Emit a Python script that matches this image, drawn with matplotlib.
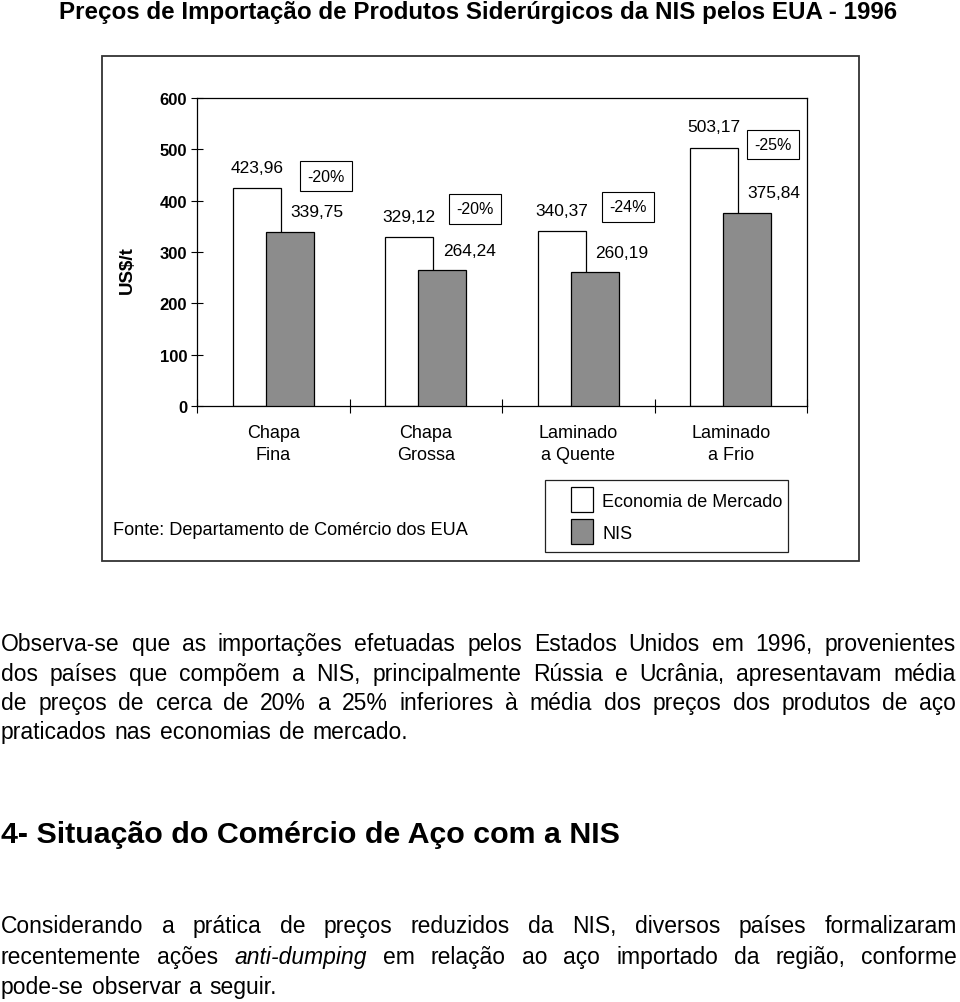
import numpy as np
import matplotlib
matplotlib.use("Agg")
import matplotlib.pyplot as plt
from matplotlib.patches import Rectangle

# ---------------- data ----------------
categories = ["Chapa\nFina", "Chapa\nGrossa", "Laminado\na Quente", "Laminado\na Frio"]
market = [423.96, 329.12, 340.37, 503.17]      # Economia de Mercado
nis = [339.75, 264.24, 260.19, 375.84]         # NIS
pct_labels = ["-20%", "-20%", "-24%", "-25%"]
yticks = [0, 100, 200, 300, 400, 500, 600]
series_names = ["Economia de Mercado", "NIS"]

title = "Preços de Importação de Produtos Siderúrgicos da NIS pelos EUA - 1996"
source = "Fonte: Departamento de Comércio dos EUA"
ylabel = "US$/t"
para1 = [
    "Observa-se que as importações efetuadas pelos Estados Unidos em 1996, provenientes",
    "dos países que compõem a NIS, principalmente Rússia e Ucrânia, apresentavam média",
    "de preços de cerca de 20% a 25% inferiores à média dos preços dos produtos de aço",
    "praticados nas economias de mercado.",
]
heading = "4- Situação do Comércio de Aço com a NIS"
para2 = [
    "Considerando a prática de preços reduzidos da NIS, diversos países formalizaram",
    "recentemente ações *anti-dumping* em relação ao aço importado da região, conforme",
    "pode-se observar a seguir.",
]

# ---------------- layout (pixels) ----------------
W, H = 960, 1003
plt.rcParams["font.family"] = ["Liberation Sans", "DejaVu Sans"]
fig = plt.figure(figsize=(W / 100, H / 100), dpi=100)
renderer = fig.canvas.get_renderer()


def fx(x):
    return x / W


def fy(y):
    return 1 - y / H


def width_of(t):
    return t.get_window_extent(renderer).width


def fit(t, target):
    t.set_fontsize(t.get_fontsize() * target / width_of(t))
    return t


GRAY = "#8c8c8c"

# outer chart frame
fig.add_artist(Rectangle((fx(102), fy(562)), fx(859) - fx(102), fy(57) - fy(562),
                         transform=fig.transFigure, fill=False, edgecolor="#333333", lw=1.3))

ax = fig.add_axes([fx(197), fy(407), fx(807) - fx(197), fy(99) - fy(407)])
idx = np.arange(len(categories))
off, bw = 0.108, 0.315
ax.bar(idx - off, market, bw, color="white", edgecolor="black", lw=0.9, zorder=2)
ax.bar(idx + off, nis, bw, color=GRAY, edgecolor="black", lw=0.9, zorder=3)
ax.set_xlim(-0.5, len(categories) - 0.5)
ax.set_ylim(0, 600)
for s in ax.spines.values():
    s.set_linewidth(0.9)

ax.set_yticks(yticks)
ax.set_yticklabels([str(t) for t in yticks], fontweight="bold", fontsize=12)
ax.tick_params(axis="y", direction="inout", length=8, width=0.8, pad=3)
ax.set_xticks(idx)
ax.set_xticklabels(categories, fontsize=13, linespacing=1.4)
ax.tick_params(axis="x", which="major", length=0, pad=13)
ax.set_xticks(np.arange(-0.5, len(categories), 1.0), minor=True)
ax.tick_params(axis="x", which="minor", direction="inout", length=9.5, width=0.8)
ax.set_ylabel(ylabel, fontweight="bold", fontsize=13.5)
ax.yaxis.set_label_coords(-0.101, 0.445)

fmt = lambda v: f"{v:.2f}".replace(".", ",")
for i in idx:
    ax.annotate(fmt(market[i]), (i - off, market[i]), xytext=(0, 15), textcoords="offset points",
                ha="center", va="center", fontsize=12.5, zorder=5)
    ax.annotate(fmt(nis[i]), (i + off, nis[i]), xytext=(19.5, 14.5), textcoords="offset points",
                ha="center", va="center", fontsize=12.5, zorder=5)

pct_pos = [(0.346, 448), (1.323, 384), (2.326, 388), (3.277, 510)]
for (px, py), lab in zip(pct_pos, pct_labels):
    ax.text(px, py, lab, ha="center", va="center", fontsize=11.5,
            bbox=dict(boxstyle="square,pad=0.45", fc="white", ec="black", lw=0.8), zorder=6)

# legend (drawn in figure pixels)
fig.add_artist(Rectangle((fx(545), fy(553)), fx(788) - fx(545), fy(481) - fy(553),
                         transform=fig.transFigure, fill=False, edgecolor="#222222", lw=0.9))
for k, (name, col) in enumerate(zip(series_names, ["white", GRAY])):
    top = 488 + 32 * k
    fig.add_artist(Rectangle((fx(571), fy(top + 25)), fx(593) - fx(571), fy(top) - fy(top + 25),
                             transform=fig.transFigure, facecolor=col, edgecolor="black", lw=0.9))
    fig.text(fx(602), fy(top + 19), name, fontsize=13, ha="left", va="baseline")

t = fig.text(fx(113), fy(535), source, fontsize=13, ha="left", va="baseline")
fit(t, 354)

# title
t = fig.text(fx(478.5), fy(13), title, fontsize=15, fontweight="bold", ha="center", va="center")
fit(t, 841)

# heading
t = fig.text(fx(1), fy(835), heading, fontsize=21, fontweight="bold", ha="left", va="center")
fit(t, 620)


# ---------------- justified paragraphs ----------------
def parse_words(line):
    out = []
    for w in line.split(" "):
        if w.startswith("*") and w.endswith("*"):
            out.append((w.strip("*"), "italic"))
        else:
            out.append((w, "normal"))
    return out


def space_w(fs):
    a = fig.text(0, 0, "a a", fontsize=fs)
    b = fig.text(0, 0, "aa", fontsize=fs)
    r = width_of(a) - width_of(b)
    a.remove(); b.remove()
    return r


def paragraph(lines, baselines, fs, x0, x1, last_gap_scale=1.0):
    sw = space_w(fs) * last_gap_scale
    for li, (line, y) in enumerate(zip(lines, baselines)):
        words = parse_words(line)
        texts = [fig.text(0, fy(y), w, fontsize=fs, style=st, ha="left", va="baseline")
                 for w, st in words]
        widths = [width_of(tt) for tt in texts]
        last = li == len(lines) - 1
        if not last and len(words) > 1:
            gap = (x1 - x0 - sum(widths)) / (len(words) - 1)
        else:
            gap = sw
        x = x0
        for tt, w in zip(texts, widths):
            tt.set_x(fx(x))
            x += w + gap


paragraph(para1, [651, 681, 710, 739], 16.5, 1, 956, last_gap_scale=1.25)
paragraph(para2, [933, 964, 994], 16.5, 1, 957, last_gap_scale=1.25)

fig.savefig("out.png", dpi=100)
